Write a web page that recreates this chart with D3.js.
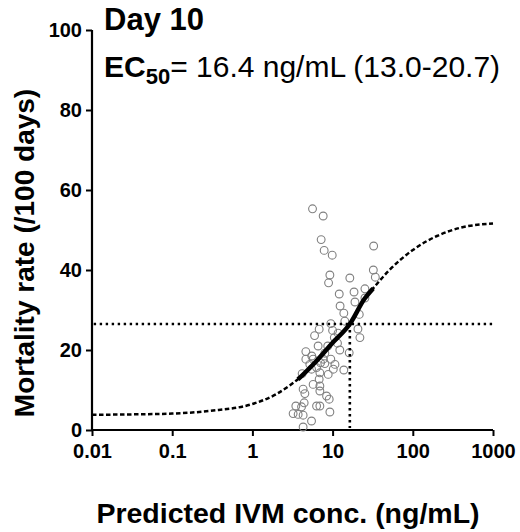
<!DOCTYPE html>
<html><head><meta charset="utf-8">
<script src="https://cdn.jsdelivr.net/npm/d3@7"></script>
<style>body{margin:0;background:#fff}svg{display:block}text{font-family:"Liberation Sans",Arial,sans-serif}</style>
</head><body>
<svg id="c" width="520" height="532"></svg>
<script>
// observed points: [conc ng/mL, mortality rate]
const obsConc = [5.62,7.63,7.20,7.85,9.89,32.5,9.25,8.91,16.4,32.2,34.1,12.1,18.5,25.3,25.3,12.4,13.8,21.5,9.5,6.8,5.96,10.0,20.7,21.9,10.5,11.5,12.3,16.1,4.64,4.64,5.72,7.63,9.5,5.2,7.08,8.0,10.7,5.46,6.31,13.8,10.2,4.17,6.94,8.81,6.8,5.72,6.94,4.29,6.94,4.51,8.41,9.07,4.42,6.31,6.94,3.48,4.1,3.22,3.72,4.29,9.25,5.46,4.29,5.5,6.6,8.0,8.7,19.0,14.2,11.7];
const obsRate = [55.3,53.5,47.6,44.9,43.7,46.0,38.75,36.8,38.0,40.0,38.2,34.0,34.5,35.3,33.0,31.0,29.2,28.9,26.6,25.2,23.6,24.9,25.25,23.1,23.1,21.7,20.0,19.3,19.6,17.7,17.7,17.7,17.7,16.4,16.8,16.6,16.4,15.2,15.6,15.0,15.2,14.1,14.3,13.9,12.7,11.4,11.0,10.2,9.75,9.1,8.5,7.7,6.8,6.0,6.0,6.0,5.8,4.1,3.9,3.7,4.5,2.25,0.75,18.5,21.0,19.2,21.0,32.0,27.2,24.2];
// fitted curve
const curveConc = [0.01,0.03,0.1,0.3,1,2,3,3.7,4,6,10,16.4,25,32,50,100,200,400,1000];
const curveRate = [3.8,3.9,4.1,4.8,6.5,9.0,11.3,12.7,13.3,16.8,21.8,26.5,32.8,35.4,39.8,45.0,48.5,50.6,51.6];
const solidRange = [3.7, 32];
const ec50 = 16.4, ec50Rate = 26.5;
const xTicks = [0.01,0.1,1,10,100,1000];
const xTickLabels = ["0.01","0.1","1","10","100","1000"];
const yTicks = [0,20,40,60,80,100];

const svg = d3.select("#c");
const x = d3.scaleLog().domain([0.01,1000]).range([92,493]);
const y = d3.scaleLinear().domain([0,100]).range([430,30]);

// axes
const xa = svg.append("g").attr("transform","translate(0,430)")
  .call(d3.axisBottom(x).tickValues(xTicks).tickFormat((d,i)=>xTickLabels[i]).tickSize(6).tickPadding(3));
const ya = svg.append("g").attr("transform","translate(92,0)")
  .call(d3.axisLeft(y).tickValues(yTicks).tickSize(6).tickPadding(4));
[xa,ya].forEach(a=>{
  a.select(".domain").attr("stroke","#000").attr("stroke-width",2.2);
  a.selectAll(".tick line").attr("stroke","#000").attr("stroke-width",2);
  a.selectAll(".tick text").attr("fill","#000").style("font-size","20px").style("font-weight","bold").style("font-family","'Liberation Sans',Arial,sans-serif");
});
xa.select(".domain").attr("d","M92,0H493");
ya.select(".domain").attr("d","M0,30V430");
xa.selectAll(".tick text").attr("dy","0.95em");

// points
svg.append("g").selectAll("circle").data(obsConc).join("circle")
  .attr("cx",d=>x(d)).attr("cy",(d,i)=>y(obsRate[i])).attr("r",3.9)
  .attr("fill","none").attr("stroke","#808080").attr("stroke-width",1.1);

// reference dotted lines
svg.append("line").attr("x1",x(0.0105)).attr("x2",x(1000)).attr("y1",y(ec50Rate)).attr("y2",y(ec50Rate))
  .attr("stroke","#000").attr("stroke-width",2.6).attr("stroke-dasharray","2.4,3.6");
svg.append("line").attr("x1",x(ec50)).attr("x2",x(ec50)).attr("y1",y(ec50Rate)).attr("y2",y(0)-2)
  .attr("stroke","#000").attr("stroke-width",2.6).attr("stroke-dasharray","2.4,3.6");

// curve
const pts = curveConc.map((c,i)=>[c,curveRate[i]]);
const line = d3.line().x(d=>x(d[0])).y(d=>y(d[1])).curve(d3.curveMonotoneX);
svg.append("path").attr("d",line(pts)).attr("fill","none").attr("stroke","#000")
  .attr("stroke-width",2.5).attr("stroke-dasharray","4.5,2.5");
svg.append("path").attr("d",line(pts.filter(p=>p[0]>=solidRange[0]&&p[0]<=solidRange[1])))
  .attr("fill","none").attr("stroke","#000").attr("stroke-width",4.5);

// titles
svg.append("text").attr("x",104).attr("y",30).style("font-size","31px").style("font-weight","bold").text("Day 10");
const ec = svg.append("text").attr("x",104).attr("y",77).style("font-size","30px");
ec.append("tspan").style("font-weight","bold").text("EC");
ec.append("tspan").style("font-weight","bold").style("font-size","22px").attr("dy","7").text("50");
ec.append("tspan").attr("dy","-7").text("= 16.4 ng/mL (13.0-20.7)");

svg.append("text").attr("transform","translate(34,253) rotate(-90)").attr("text-anchor","middle")
  .style("font-size","28px").style("font-weight","bold").text("Mortality rate (/100 days)");
svg.append("text").attr("x",288).attr("y",523).attr("text-anchor","middle")
  .style("font-size","28.5px").style("font-weight","bold").text("Predicted IVM conc. (ng/mL)");
</script>
</body></html>
